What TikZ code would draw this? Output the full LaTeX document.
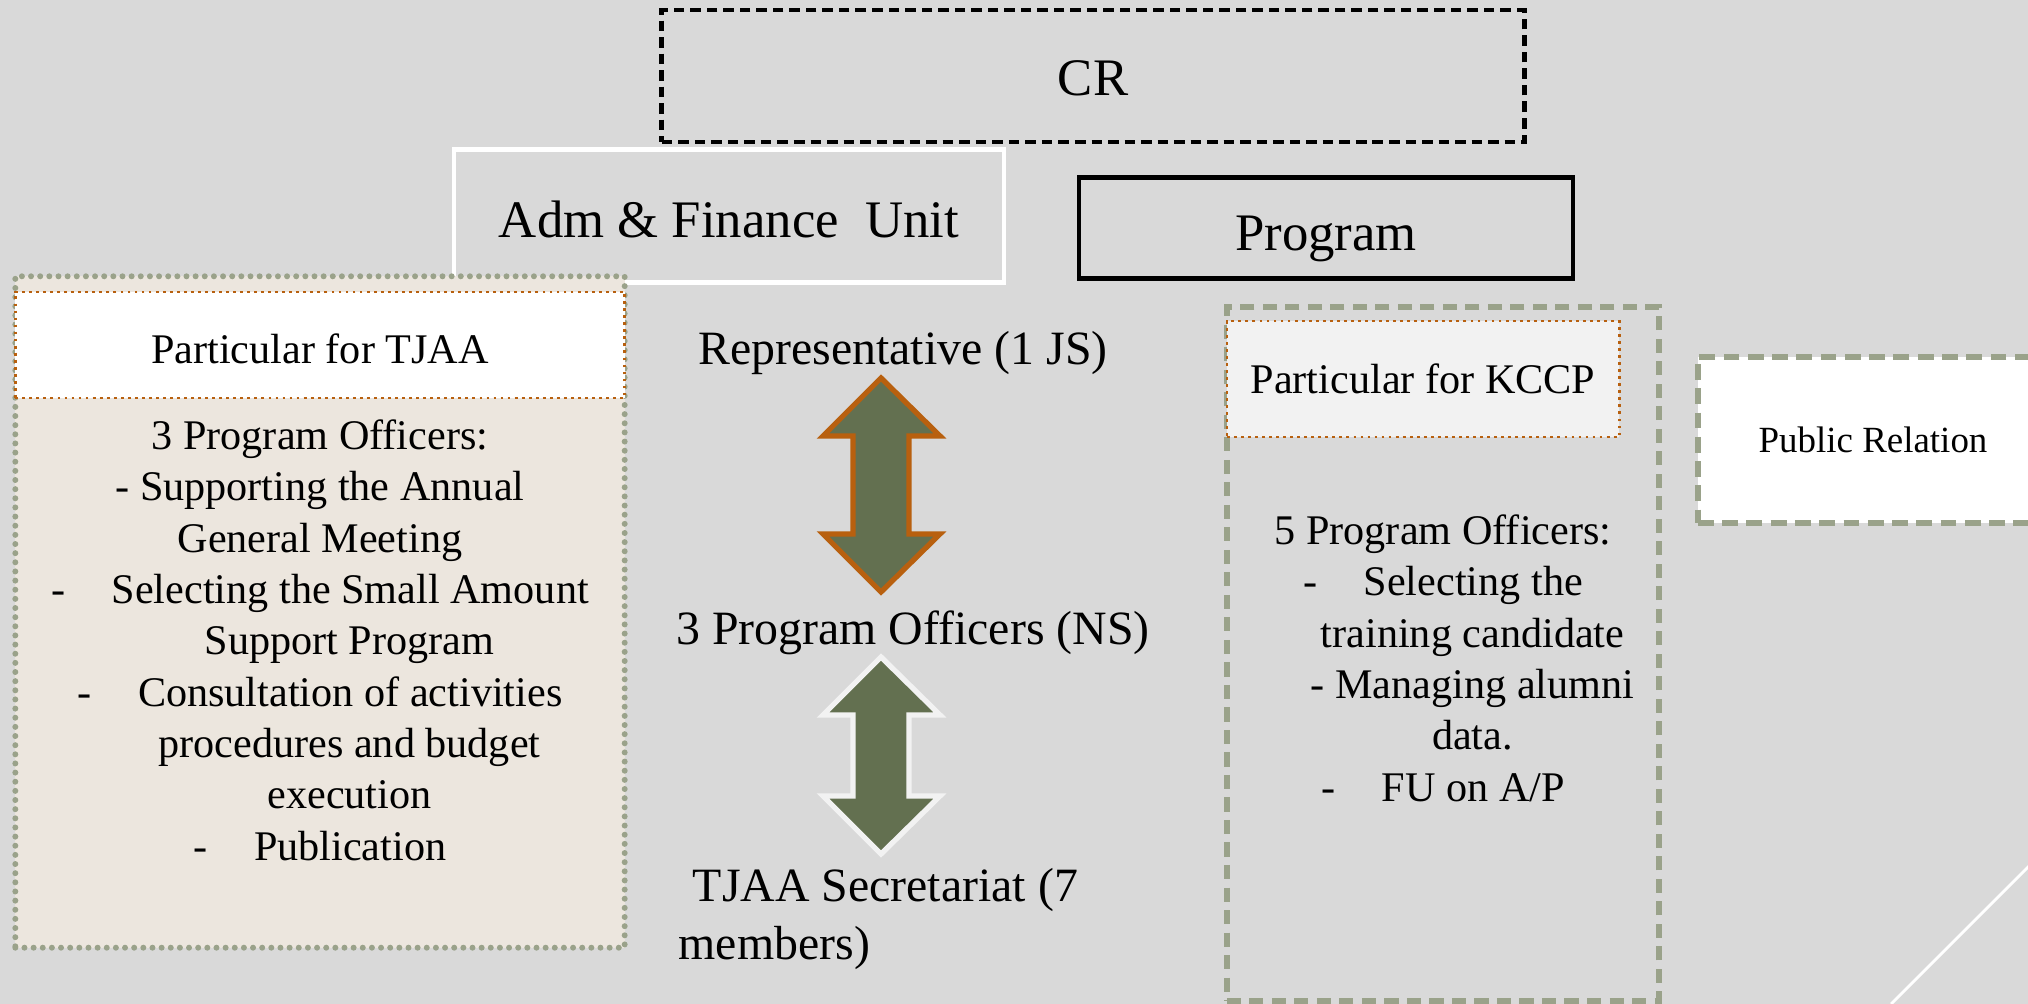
\documentclass[tikz,border=0pt]{standalone}
\usepackage{fontspec}
\setmainfont{Liberation Serif}
\usepackage{tikz}
\usetikzlibrary{positioning}
\definecolor{slidegray}{HTML}{D9D9D9}
\definecolor{sage}{HTML}{9AA28A}
\definecolor{rust}{HTML}{B8600F}
\definecolor{olive}{HTML}{637050}
\definecolor{sand}{HTML}{ECE6DE}
\definecolor{paper}{HTML}{F2F2F2}
\newcommand\subline{\hspace*{1.4em}}
\newcommand\dashgap{\hspace{1.1em}}
\tikzset{
    %Define style for the head boxes
    crbox/.style={
           rectangle,
           draw=black, line width=1.3pt,
           dash pattern=on 3pt off 1.7pt,
           minimum width=8.62cm,
           minimum height=1.32cm,
           text height=11.5pt,
           font=\fontsize{15}{18}\selectfont,
           text centered},
    unitbox/.style={
           rectangle,
           draw=white, line width=1.2pt,
           text height=12.6pt,
           font=\fontsize{15}{18}\selectfont,
           text centered},
    progbox/.style={
           rectangle,
           draw=black, line width=1.2pt,
           text height=16pt,
           font=\fontsize{15}{18}\selectfont,
           text centered},
    %Define style for the side frames
    tjaaframe/.style={
           rectangle,
           draw=sage, line width=1.7pt,
           dash pattern=on 0pt off 2.6pt, line cap=round,
           fill=sand},
    kccpframe/.style={
           rectangle,
           draw=sage, line width=1.6pt,
           dash pattern=on 4pt off 2.4pt},
    headbox/.style={
           rectangle,
           draw=rust, line width=0.8pt,
           dash pattern=on 0.8pt off 1.2pt,
           font=\fontsize{12}{14.6}\selectfont,
           text centered},
    prbox/.style={
           rectangle,
           draw=sage, line width=1.6pt,
           dash pattern=on 4.5pt off 2.4pt,
           fill=white,
           minimum width=3.5cm,
           minimum height=1.66cm,
           font=\fontsize{10.5}{12.6}\selectfont},
    bodytext/.style={
           inner sep=0pt,
           align=center,
           font=\fontsize{12}{14.6}\selectfont},
    midtext/.style={
           inner sep=0pt,
           font=\fontsize{13.6}{16.3}\selectfont},
    % Define block arrow style
    dblarrow/.style={
           fill=olive,
           line width=1.5pt,
           line join=miter}
}
\begin{document}
\begin{tikzpicture}[x=0.01cm,y=-0.01cm]
\path[use as bounding box, fill=slidegray] (0,0) rectangle (2028,1004);
\draw[white, line width=0.8pt] (1891,1004) -- (2040,855);

% top row
\node[crbox] (cr) at (1093,76) {CR};
\node[unitbox, minimum width=5.49cm, minimum height=1.33cm] (adm) at (729,216) {Adm \& Finance\ \ Unit};
\node[progbox, minimum width=4.93cm, minimum height=1.01cm] (prog) at (1326,228) {Program};

% TJAA column
\node[tjaaframe, minimum width=6.09cm, minimum height=6.71cm] (tjaa) at (320,612) {};
\node[headbox, fill=white, text height=10.4pt, minimum width=6.09cm, minimum height=1.06cm] (tjaahead) at (320,345) {Particular for TJAA};
\node[bodytext, anchor=north] (tjaabody) at (320,419) {3 Program Officers:\\
- Supporting the Annual\\
General Meeting\\
-\dashgap Selecting the Small Amount\\
\subline Support Program\\
-\dashgap Consultation of activities\\
\subline procedures and budget\\
\subline execution\\
-\dashgap Publication};

% middle column
\node[midtext] (rep) at (903,353) {Representative (1 JS)};
\node[midtext] (ns) at (913,633) {3 Program Officers (NS)};
\node[midtext, align=left, anchor=west] (sec) at (678,919) {\hspace*{4pt}TJAA Secretariat (7\\members)};
\foreach \yt/\yb/\edge in {378/592/rust, 657/854/paper}
  \draw[dblarrow, draw=\edge] (881,\yt) -- (940,{\yt+58}) -- (909,{\yt+58}) -- (909,{\yb-58})
    -- (940,{\yb-58}) -- (881,\yb) -- (823,{\yb-58}) -- (853,{\yb-58})
    -- (853,{\yt+58}) -- (823,{\yt+58}) -- cycle;

% KCCP column
\node[kccpframe, minimum width=4.32cm, minimum height=6.93cm] (kccp) at (1443,654) {};
\node[headbox, fill=paper, minimum width=3.92cm, minimum height=1.16cm] (kccphead) at (1423,379) {Particular for KCCP};
\node[bodytext, anchor=north] (kccpbody) at (1443,514) {5 Program Officers:\\
-\dashgap Selecting the\\
\subline training candidate\\
\subline - Managing alumni\\
\subline data.\\
-\dashgap FU on A/P};

% public relation
\node[prbox] (pr) at (1873,440) {Public Relation};
\end{tikzpicture}
\end{document}
